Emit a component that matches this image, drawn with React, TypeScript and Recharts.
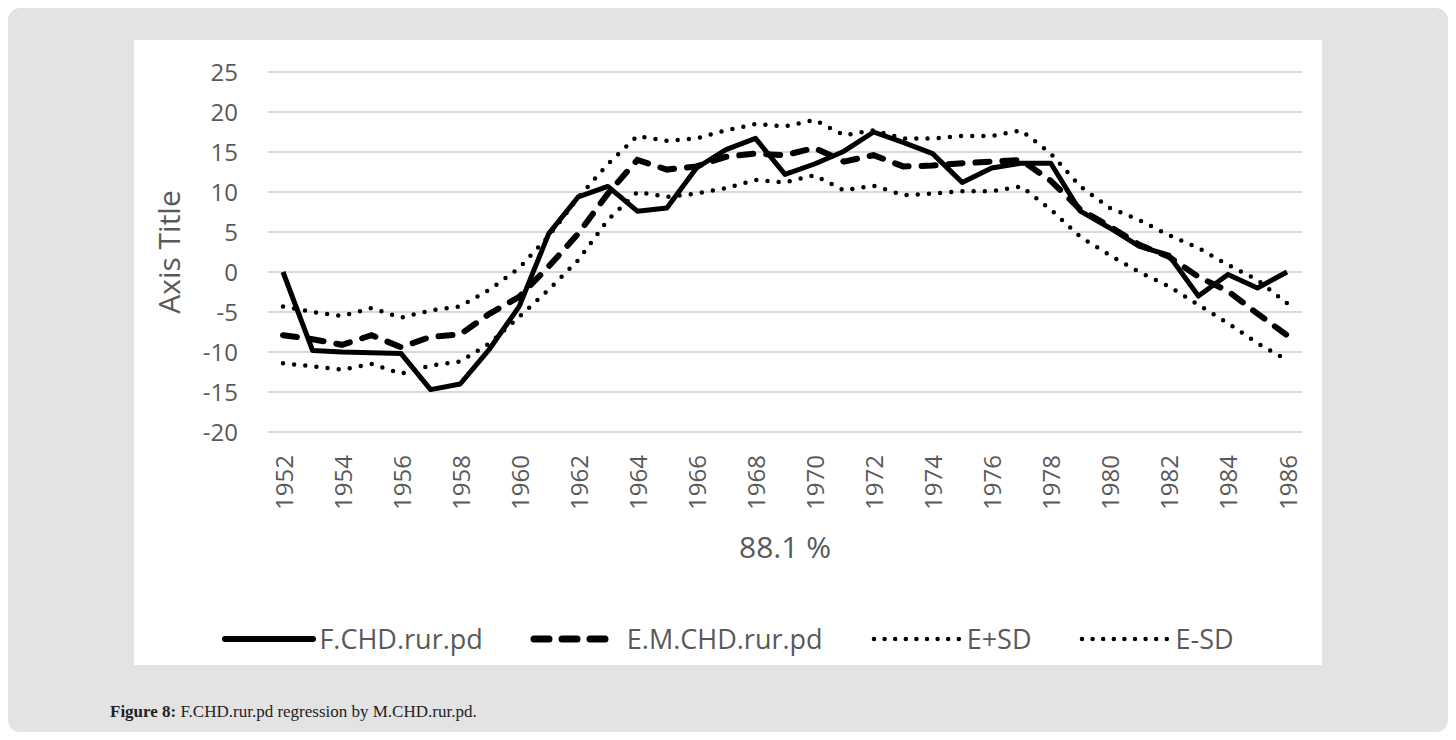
/* ── Figure 8 — F.CHD.rur.pd regression by M.CHD.rur.pd ─────────────── */

import { LineChart, Line, XAxis, YAxis, CartesianGrid } from 'recharts';

const YEARS = [
  1952, 1953, 1954, 1955, 1956, 1957, 1958, 1959, 1960, 1961, 1962, 1963,
  1964, 1965, 1966, 1967, 1968, 1969, 1970, 1971, 1972, 1973, 1974, 1975,
  1976, 1977, 1978, 1979, 1980, 1981, 1982, 1983, 1984, 1985, 1986,
];

const F_CHD = [
  0, -9.8, -10, -10.1, -10.2, -14.7, -14, -9.6, -4.3, 4.8, 9.4, 10.7,
  7.6, 8.0, 13.0, 15.3, 16.7, 12.2, 13.5, 15.1, 17.5, 16.2, 14.8, 11.2,
  13.0, 13.6, 13.6, 7.6, 5.5, 3.2, 2.1, -3.0, -0.3, -2.0, 0,
];

const EM_CHD = [
  -7.9, -8.4, -9.1, -7.9, -9.4, -8.1, -7.8, -5.2, -3.1, 0.7, 4.8, 9.8,
  14.0, 12.8, 13.2, 14.4, 14.8, 14.6, 15.5, 13.8, 14.6, 13.2, 13.3, 13.6,
  13.8, 14.0, 11.4, 7.8, 5.7, 3.4, 1.9, -0.6, -2.4, -5.2, -7.9,
];

const E_PLUS_SD = [
  -4.3, -5.0, -5.5, -4.5, -5.7, -4.8, -4.3, -2.2, 0.5, 4.5, 9.3, 13.5,
  17.0, 16.4, 16.7, 17.7, 18.5, 18.2, 19.0, 17.1, 17.7, 16.7, 16.7, 17.0,
  17.0, 17.7, 14.8, 10.7, 8.0, 6.5, 4.6, 3.0, 0.9, -1.0, -3.9,
];

const E_MINUS_SD = [
  -11.4, -11.8, -12.2, -11.5, -12.7, -11.7, -11.2, -8.9, -5.6, -2.2, 1.5, 6.5,
  10.0, 9.4, 9.8, 10.5, 11.5, 11.2, 12.1, 10.2, 10.8, 9.6, 9.8, 10.1,
  10.1, 10.7, 7.8, 4.4, 2.1, 0, -1.8, -4.1, -6.4, -8.9, -11.0,
];

const Y_TICKS = [-20, -15, -10, -5, 0, 5, 10, 15, 20, 25];

const data = YEARS.map((year, i) => ({
  year: String(year),
  f: F_CHD[i],
  em: EM_CHD[i],
  up: E_PLUS_SD[i],
  lo: E_MINUS_SD[i],
}));

const TEXT = '#595959';
const FONT = '"Open Sans", sans-serif';

/* rotated year labels, every other year like Excel */
function YearTick({ x, y, payload, index }: any) {
  if (index % 2 !== 0) return null;
  return (
    <text
      x={x}
      y={y + 21}
      transform={`rotate(-90, ${x}, ${y + 21})`}
      textAnchor="end"
      dominantBaseline="central"
      fill={TEXT}
      fontSize={24}
      fontFamily={FONT}
    >
      {payload.value}
    </text>
  );
}

function LegendSample({ kind }: { kind: string }) {
  const common = { y1: 10, y2: 10, stroke: '#000', strokeLinecap: 'round' as const };
  return (
    <svg width={94} height={20} style={{ display: 'block' }}>
      {kind === 'solid' && <line {...common} x1={3} x2={91} strokeWidth={6} />}
      {kind === 'dash' && <line {...common} x1={4} x2={76} strokeWidth={7} strokeDasharray="15 13" />}
      {kind === 'dot' && <line {...common} x1={4} x2={91} strokeWidth={4.5} strokeDasharray="0 10.6" />}
    </svg>
  );
}

const LEGEND = [
  { kind: 'solid', name: 'F.CHD.rur.pd' },
  { kind: 'dash', name: 'E.M.CHD.rur.pd' },
  { kind: 'dot', name: 'E+SD' },
  { kind: 'dot', name: 'E-SD' },
];

export default function App() {
  return (
    <div style={{ position: 'relative', width: 1440, height: 724, background: '#e3e3e3', borderRadius: 12 }}>
      <div style={{ position: 'absolute', left: 126, top: 32, width: 1188, height: 625, background: '#fff' }}>
        <LineChart width={1188} height={625} data={data} margin={{ top: 32, right: 20, left: 0, bottom: 93 }}>
          <CartesianGrid vertical={false} stroke="#d9d9d9" strokeWidth={2} />
          <XAxis
            dataKey="year"
            axisLine={false}
            tickLine={false}
            tickSize={0}
            interval={0}
            height={140}
            padding={{ left: 15, right: 15 }}
            tick={<YearTick />}
            label={(props: any) => {
              const vb = props.viewBox;
              return (
                <text
                  x={vb.x + vb.width / 2}
                  y={vb.y + 114}
                  textAnchor="middle"
                  dominantBaseline="central"
                  fill={TEXT}
                  fontSize={30}
                  fontFamily={FONT}
                >
                  88.1 %
                </text>
              );
            }}
          />
          <YAxis
            type="number"
            domain={[-20, 25]}
            ticks={Y_TICKS}
            interval={0}
            width={134}
            axisLine={false}
            tickLine={false}
            tickSize={0}
            tickMargin={30}
            tick={{ fill: TEXT, fontSize: 24, fontFamily: FONT }}
            label={(props: any) => {
              const vb = props.viewBox;
              const cx = 34;
              const cy = vb.y + vb.height / 2;
              return (
                <text
                  x={cx}
                  y={cy}
                  transform={`rotate(-90, ${cx}, ${cy})`}
                  textAnchor="middle"
                  dominantBaseline="central"
                  fill={TEXT}
                  fontSize={30}
                  fontFamily={FONT}
                >
                  Axis Title
                </text>
              );
            }}
          />
          <Line type="linear" dataKey="f" name="F.CHD.rur.pd" stroke="#000" strokeWidth={5}
            strokeLinejoin="round" dot={false} isAnimationActive={false} />
          <Line type="linear" dataKey="em" name="E.M.CHD.rur.pd" stroke="#000" strokeWidth={6}
            strokeDasharray="14 13" strokeLinecap="round" dot={false} isAnimationActive={false} />
          <Line type="linear" dataKey="up" name="E+SD" stroke="#000" strokeWidth={4.5}
            strokeDasharray="0 11.2" strokeLinecap="round" dot={false} isAnimationActive={false} />
          <Line type="linear" dataKey="lo" name="E-SD" stroke="#000" strokeWidth={4.5}
            strokeDasharray="0 11.2" strokeLinecap="round" dot={false} isAnimationActive={false} />
        </LineChart>

        {/* legend */}
        <div
          style={{
            position: 'absolute', left: 0, right: 0, top: 583, height: 32,
            display: 'flex', justifyContent: 'center', alignItems: 'center', gap: 47,
            fontFamily: FONT, fontSize: 27, color: TEXT,
          }}
        >
          {LEGEND.map((it) => (
            <div key={it.name} style={{ display: 'flex', alignItems: 'center', gap: it.kind === 'dash' ? 3 : 3 }}>
              <LegendSample kind={it.kind} />
              <span style={{ lineHeight: '32px' }}>{it.name}</span>
            </div>
          ))}
        </div>
      </div>

      <div
        style={{
          position: 'absolute', left: 102, top: 694,
          fontFamily: '"Liberation Serif", serif', fontSize: 17, color: '#222',
        }}
      >
        <b>Figure 8:</b> F.CHD.rur.pd regression by M.CHD.rur.pd.
      </div>
    </div>
  );
}
